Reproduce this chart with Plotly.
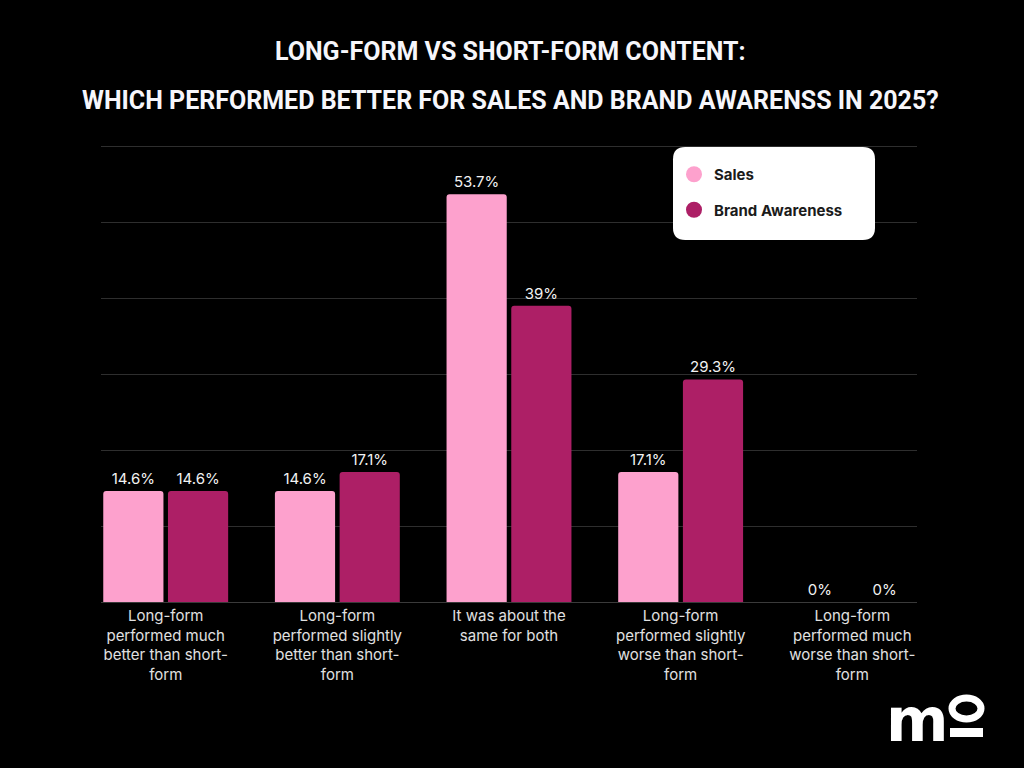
import plotly.graph_objects as go

# chart data
categories = [
    "Long-form<br>performed much<br>better than short-<br>form",
    "Long-form<br>performed slightly<br>better than short-<br>form",
    "It was about the<br>same for both",
    "Long-form<br>performed slightly<br>worse than short-<br>form",
    "Long-form<br>performed much<br>worse than short-<br>form",
]
sales = [14.6, 14.6, 53.7, 17.1, 0]
brand_awareness = [14.6, 17.1, 39, 29.3, 0]
sales_labels = ["14.6%", "14.6%", "53.7%", "17.1%", "0%"]
brand_labels = ["14.6%", "17.1%", "39%", "29.3%", "0%"]
title_lines = ["LONG-FORM VS SHORT-FORM CONTENT:",
               "WHICH PERFORMED BETTER FOR SALES AND BRAND AWARENSS IN 2025?"]

PINK = "#FDA1CD"
BERRY = "#AD1F66"
TITLE_FONT = "Roboto, Liberation Sans, sans-serif"

# plot area in pixels (for placing overlay shapes)
L, R, T, B = 101, 917, 144, 602


def px_x(x):
    return (x - L) / (R - L)


def px_y(y):
    return (B - y) / (B - T)


fig = go.Figure()

fig.add_trace(go.Bar(x=categories, y=sales, name="Sales", marker_color=PINK,
                     text=sales_labels, textposition="outside", showlegend=False,
                     cliponaxis=False))
fig.add_trace(go.Bar(x=categories, y=brand_awareness, name="Brand Awareness",
                     marker_color=BERRY, text=brand_labels, textposition="outside",
                     showlegend=False, cliponaxis=False))

# legend entries with round markers
for name, col, grp in [("Sales", PINK, "a"), ("Brand Awareness", BERRY, "b")]:
    fig.add_trace(go.Scatter(x=[None], y=[None], mode="markers", name=name,
                             legendgroup=grp,
                             marker=dict(symbol="circle", size=17, color=col)))

fig.update_traces(textfont=dict(family="Inter", size=15, color="#f2f2f2"),
                  marker_line_width=0, selector=dict(type="bar"))

# rounded white legend box
x0, x1, y0, y1, r = px_x(673), px_x(875), px_y(147), px_y(240), 0.015
ry = r * (R - L) / (B - T)
legend_box = (f"M {x0+r},{y0} L {x1-r},{y0} Q {x1},{y0} {x1},{y0-ry} "
              f"L {x1},{y1+ry} Q {x1},{y1} {x1-r},{y1} L {x0+r},{y1} "
              f"Q {x0},{y1} {x0},{y1+ry} L {x0},{y0-ry} Q {x0},{y0} {x0+r},{y0} Z")

shapes = [
    dict(type="path", path=legend_box, xref="paper", yref="paper",
         fillcolor="white", line_width=0, layer="above"),
    # logo: "o" ring and underline
    dict(type="circle", xref="paper", yref="paper",
         x0=px_x(952), x1=px_x(981), y0=px_y(719), y1=px_y(698),
         line=dict(color="white", width=7), fillcolor="rgba(0,0,0,0)"),
    dict(type="rect", xref="paper", yref="paper",
         x0=px_x(950), x1=px_x(983), y0=px_y(737), y1=px_y(728),
         fillcolor="white", line_width=0),
]

annotations = [
    dict(text=line, xref="paper", yref="paper", x=px_x(510), y=px_y(yc),
         xanchor="center", yanchor="middle", showarrow=False,
         font=dict(family=TITLE_FONT, size=25, color="#f6f6fb", weight="bold"))
    for line, yc in zip(title_lines, [51, 101])
]
annotations.append(dict(text="<b>m</b>", xref="paper", yref="paper",
                        x=px_x(917), y=px_y(720), xanchor="center", yanchor="middle",
                        showarrow=False,
                        font=dict(family="DejaVu Sans", size=60, color="white")))

fig.update_layout(
    width=1024, height=768,
    paper_bgcolor="black", plot_bgcolor="black",
    margin=dict(l=L, r=1024 - R, t=T, b=768 - B),
    barmode="group", bargap=0.246, bargroupgap=0.07, barcornerradius=3,
    font=dict(family="Inter", color="#e6e6e6"),
    showlegend=True,
    legend=dict(x=px_x(674), y=px_y(158), xanchor="left", yanchor="top",
                bgcolor="rgba(0,0,0,0)", tracegroupgap=13,
                font=dict(family="Inter", size=15, color="#1b1b1b", weight="bold")),
    shapes=shapes,
    annotations=annotations,
)

fig.update_xaxes(range=[-0.377, 4.377], showgrid=False, showline=True,
                 linecolor="#3a3a3a", linewidth=1, ticks="",
                 tickfont=dict(family="Inter", size=15, color="#e0e0e0"))
fig.update_yaxes(range=[0, 60.3], dtick=10, showgrid=True, gridcolor="#2e2e2e",
                 gridwidth=1, showticklabels=False, zeroline=False, fixedrange=True)

fig.write_html("out.html", config={"displayModeBar": False},
               post_script="document.body.style.margin='0';")
